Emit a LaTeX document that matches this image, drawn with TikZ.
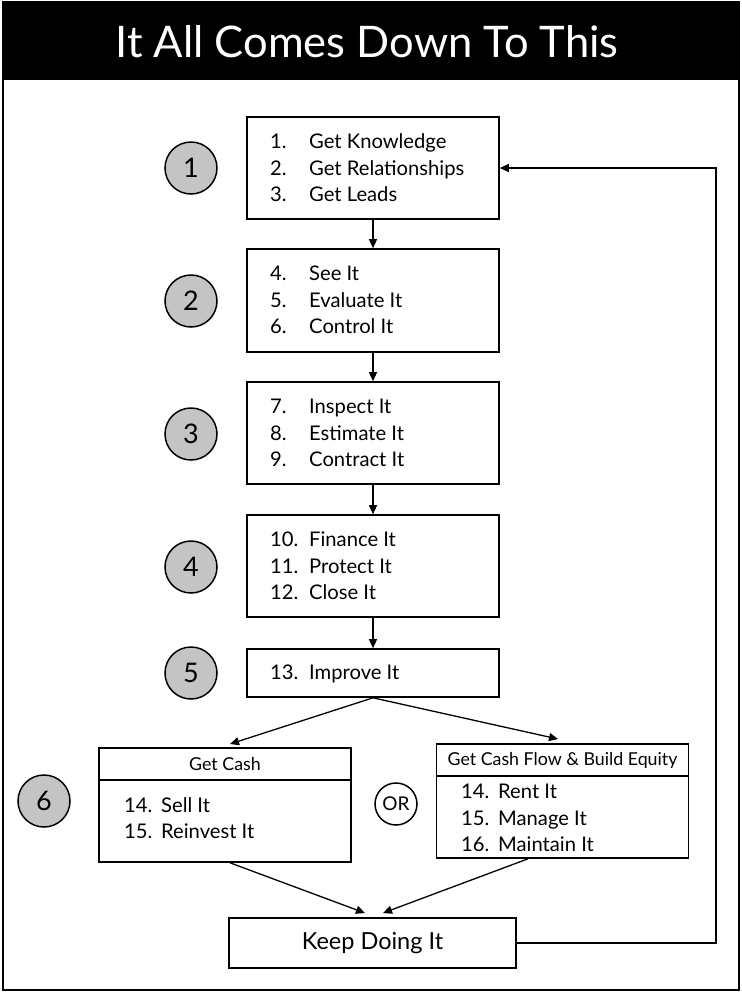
\documentclass[tikz,border=0pt]{standalone}
\usepackage{fontspec}
\setmainfont{Lato}
\usetikzlibrary{arrows.meta}
\definecolor{circgray}{RGB}{196,196,196}
\begin{document}
\begin{tikzpicture}[x=1pt,y=-1pt,
  box/.style={draw,line width=1.6pt,rectangle,inner sep=0pt},
  lst/.style={anchor=west,inner sep=0pt,font=\fontsize{20.2}{26.5}\selectfont,align=left},
  hdr/.style={box,font=\fontsize{17.8}{17.8}\selectfont},
  numc/.style={circle,draw,line width=1.5pt,fill=circgray,minimum size=52pt,inner sep=0pt,font=\fontsize{27}{27}\selectfont},
  arr/.style={-{Triangle[length=9pt,width=8pt]},line width=1.3pt},
]
\useasboundingbox (0,0) rectangle (742,994);
% frame and title bar
\fill[black] (2,1) rectangle (740,80);
\draw[line width=1.5pt] (3,2) rectangle (739,990);
\node[font=\fontsize{43.5}{43.5}\selectfont,text=white,inner sep=0pt] (title) at (367,42) {It All Comes Down To This};

% boxes
\node[box,minimum width=252pt,minimum height=102pt] (b1) at (373,168) {};
\node[box,minimum width=252pt,minimum height=103pt] (b2) at (373,300.5) {};
\node[box,minimum width=252pt,minimum height=102pt] (b3) at (373,433) {};
\node[box,minimum width=252pt,minimum height=102pt] (b4) at (373,566) {};
\node[box,minimum width=252pt,minimum height=48pt] (b5) at (373,673) {};

\node[lst] (l1) at (270,170) {\begin{tabular}{@{}p{39pt}@{}l@{}}1. & Get Knowledge\\2. & Get Relationships\\3. & Get Leads\end{tabular}};
\node[lst] (l2) at (270,302) {\begin{tabular}{@{}p{39pt}@{}l@{}}4. & See It\\5. & Evaluate It\\6. & Control It\end{tabular}};
\node[lst] (l3) at (270,435) {\begin{tabular}{@{}p{39pt}@{}l@{}}7. & Inspect It\\8. & Estimate It\\9. & Contract It\end{tabular}};
\node[lst] (l4) at (270,568) {\begin{tabular}{@{}p{39pt}@{}l@{}}10. & Finance It\\11. & Protect It\\12. & Close It\end{tabular}};
\node[lst] (l5) at (270,674) {\begin{tabular}{@{}p{39pt}@{}l@{}}13. & Improve It\end{tabular}};

% step circles
\node[numc] (c1) at (191,168) {1};
\node[numc] (c2) at (191,301) {2};
\node[numc] (c3) at (191,434) {3};
\node[numc] (c4) at (191,567) {4};
\node[numc] (c5) at (191,673) {5};
\node[numc] (c6) at (44,801) {6};

% option boxes
\node[hdr,minimum width=252pt,minimum height=32pt] (gch) at (225,764) {Get Cash};
\node[box,minimum width=252pt,minimum height=82pt] (gcb) at (225,821) {};
\node[lst] (l6) at (124,820) {\begin{tabular}{@{}p{37pt}@{}l@{}}14. & Sell It\\15. & Reinvest It\end{tabular}};

\node[hdr,minimum width=252pt,minimum height=32pt] (gfh) at (562.5,760) {Get Cash Flow \& Build Equity};
\node[box,minimum width=252pt,minimum height=82pt] (gfb) at (562.5,817) {};
\node[lst] (l7) at (461,820) {\begin{tabular}{@{}p{37pt}@{}l@{}}14. & Rent It\\15. & Manage It\\16. & Maintain It\end{tabular}};

\node[circle,draw,line width=1.5pt,fill=white,minimum size=42pt,inner sep=0pt,font=\fontsize{19}{19}\selectfont] (or) at (396,804) {OR};

\node[box,minimum width=287pt,minimum height=50pt,font=\fontsize{23.5}{23.5}\selectfont] (keep) at (372.5,943) {Keep Doing It};

% connectors
\draw[arr] (b1.south) -- (b2.north);
\draw[arr] (b2.south) -- (b3.north);
\draw[arr] (b3.south) -- (b4.north);
\draw[arr] (b4.south) -- (b5.north);
\coordinate (gcin) at (230,744);
\coordinate (gfin) at (558,739);
\draw[arr] (b5.south) -- (gcin);
\draw[arr] (b5.south) -- (gfin);
\coordinate (kin1) at (365,913);
\coordinate (kin2) at (383,913);
\draw[arr] ([xshift=5pt]gcb.south) -- (kin1);
\draw[arr] ([xshift=-34.5pt]gfb.south) -- (kin2);
\coordinate (fb) at (716,168);
\draw[arr] (keep.east) -| (fb) -- (b1.east);
\end{tikzpicture}
\end{document}
